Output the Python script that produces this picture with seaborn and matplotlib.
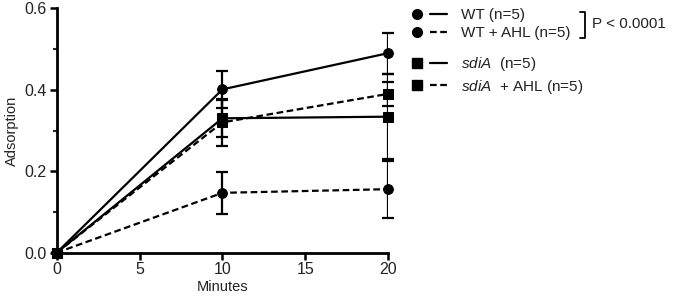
import numpy as np
import pandas as pd
import matplotlib
matplotlib.use("Agg")
import matplotlib.pyplot as plt
import seaborn as sns
from matplotlib.lines import Line2D
from matplotlib.legend_handler import HandlerTuple

minutes = [0, 10, 20]

wt = [0.0, 0.401, 0.490]
wt_err = [0.0, 0.045, 0.050]
wt_ahl = [0.0, 0.147, 0.156]
wt_ahl_err = [0.0, 0.052, 0.070]
sdia = [0.0, 0.330, 0.334]
sdia_err = [0.0, 0.045, 0.105]
sdia_ahl = [0.0, 0.320, 0.390]
sdia_ahl_err = [0.0, 0.057, 0.030]

labels = ["WT (n=5)", "WT + AHL (n=5)",
          r"$\it{sdiA}$  (n=5)", r"$\it{sdiA}$  + AHL (n=5)"]
p_text = "P < 0.0001"

sns.set_style("ticks")
plt.rcParams["font.family"] = ["Liberation Sans", "DejaVu Sans"]
plt.rcParams["mathtext.fontset"] = "custom"
plt.rcParams["mathtext.it"] = "Liberation Sans:italic"

fig = plt.figure(figsize=(6.75, 2.98), dpi=100)
ax = fig.add_axes([0.084, 0.152, 0.491, 0.82])

dash = (0, (3, 1.6))
series = [
    (wt, wt_err, "o", "-"),
    (wt_ahl, wt_ahl_err, "o", dash),
    (sdia, sdia_err, "s", "-"),
    (sdia_ahl, sdia_ahl_err, "s", dash),
]

for vals, err, mk, ls in series:
    sns.lineplot(x=minutes, y=vals, ax=ax, color="black", marker=mk,
                 markersize=7, markeredgecolor="black", linewidth=1.6,
                 linestyle=ls)
    ax.errorbar(minutes, vals, yerr=err, fmt="none", ecolor="black",
                elinewidth=1.6, capsize=4, capthick=1.6)

ax.set_xlim(0, 20)
ax.set_ylim(0, 0.6)
ax.set_xticks([0, 5, 10, 15, 20])
ax.set_yticks([0.0, 0.2, 0.4, 0.6])
ax.set_yticks([0.1, 0.3, 0.5], minor=True)
ax.yaxis.set_major_formatter(matplotlib.ticker.FormatStrFormatter("%.1f"))
ax.tick_params(axis="both", which="major", length=5, width=1.8,
               labelsize=11.5, color="black", labelcolor="#222222", pad=2)
ax.tick_params(axis="y", which="minor", length=3, width=1.5)
for s in ["left", "bottom"]:
    ax.spines[s].set_linewidth(2)
    ax.spines[s].set_color("black")
sns.despine(ax=ax)
for line in ax.lines:
    line.set_clip_on(False)
ax.set_xlabel("Minutes", fontsize=10.5, color="#222222", labelpad=2)
ax.set_ylabel("Adsorption", fontsize=10.5, color="#222222", labelpad=4)

def handle(mk, ls):
    m = Line2D([], [], marker=mk, color="black", linestyle="none",
               markersize=7)
    l = Line2D([], [], color="black", linestyle=ls, linewidth=1.6)
    return (m, l)

leg_kw = dict(handler_map={tuple: HandlerTuple(ndivide=None, pad=0.3)},
              frameon=False, fontsize=11, handlelength=2.5,
              handletextpad=0.9, labelspacing=0.3, borderaxespad=0,
              borderpad=0, loc="upper left")
leg1 = ax.legend([handle("o", "-"), handle("o", dash)], labels[:2],
                 bbox_to_anchor=(1.063, 1.002), **leg_kw)
ax.add_artist(leg1)
leg2 = ax.legend([handle("s", "-"), handle("s", dash)], labels[2:],
                 bbox_to_anchor=(1.063, 0.809), **leg_kw)
for lg in (leg1, leg2):
    for t in lg.get_texts():
        t.set_color("#222222")

# bracket for the WT comparison
fig.lines.append(Line2D([0.859, 0.867, 0.867, 0.859],
                        [0.96, 0.96, 0.872, 0.872], color="black",
                        linewidth=1.3, transform=fig.transFigure))
fig.text(0.877, 0.92, p_text, fontsize=11, va="center", color="#222222")

fig.savefig("out.png", dpi=100)
